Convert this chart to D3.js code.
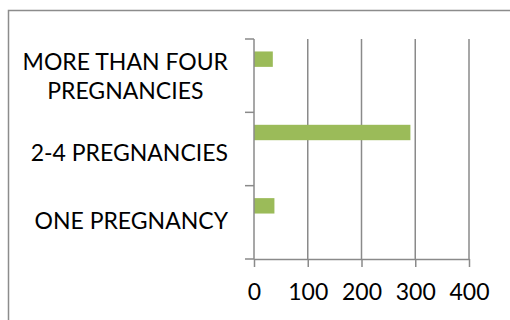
<!DOCTYPE html>
<html><head><meta charset="utf-8">
<script src="https://cdn.jsdelivr.net/npm/d3@7"></script>
<style>body{margin:0;background:#fff}svg{display:block}</style>
</head><body><svg id="c" width="510" height="320"></svg>
<script>
const categories = [["MORE THAN FOUR","PREGNANCIES"],["2-4 PREGNANCIES"],["ONE PREGNANCY"]];
const values = [35, 291, 38];
const ticks = [0,100,200,300,400];

const svg = d3.select("#c");
const font = "Lato, 'Open Sans', sans-serif";
const fs = 23;
const grey = "#8a8a8a";

svg.append("rect").attr("x",8.5).attr("y",10.5).attr("width",520).attr("height",330)
  .attr("fill","#fff").attr("stroke","#8c8c8c").attr("stroke-width",1.5);

const x = d3.scaleLinear().domain([0,400]).range([254,469]);
const keys = categories.map(c=>c.join(" "));
const y = d3.scaleBand().domain(keys).range([39,259]);

// gridlines
svg.append("g").selectAll("line").data(ticks.slice(1)).join("line")
  .attr("x1",d=>x(d)).attr("x2",d=>x(d)).attr("y1",39).attr("y2",259)
  .attr("stroke",grey).attr("stroke-width",1.5);

// bars
svg.append("g").selectAll("rect").data(values).join("rect")
  .attr("x",x(0)).attr("y",(d,i)=>y(keys[i])+y.bandwidth()*0.17)
  .attr("width",d=>x(d)-x(0)).attr("height",y.bandwidth()*0.21)
  .attr("fill","#9bbb59");

// x axis
const xa = svg.append("g").attr("transform","translate(0,259)")
  .call(d3.axisBottom(x).tickValues(ticks).tickSize(8).tickPadding(17).tickSizeOuter(0));
xa.select(".domain").attr("stroke",grey).attr("stroke-width",1.5);
xa.selectAll(".tick line").attr("stroke",grey).attr("stroke-width",1.5);
xa.selectAll(".tick text").attr("font-family",font).attr("font-size",fs).attr("fill","#000");

// y axis line + ticks
const yTicks = [39, ...keys.map(k=>y(k)+y.bandwidth())];
svg.append("line").attr("x1",254).attr("x2",254).attr("y1",39).attr("y2",259)
  .attr("stroke",grey).attr("stroke-width",1.5);
svg.append("g").selectAll("line").data(yTicks).join("line")
  .attr("x1",245).attr("x2",254).attr("y1",d=>d).attr("y2",d=>d)
  .attr("stroke",grey).attr("stroke-width",1.5);

// category labels
const right = 228;
const shifts = [0, 3, -2];
categories.forEach((lines,i)=>{
  const cy = y(keys[i]) + y.bandwidth()/2 + shifts[i];
  const g = svg.append("g");
  const ts = lines.map((t,j)=>g.append("text").text(t)
    .attr("font-family",font).attr("font-size",fs).attr("fill","#000")
    .attr("dominant-baseline","central")
    .attr("y", cy + (j-(lines.length-1)/2)*29.5));
  const w = Math.max(...ts.map(t=>t.node().getComputedTextLength()));
  ts.forEach(t=>t.attr("text-anchor","middle").attr("x", right - w/2));
});
</script></body></html>
